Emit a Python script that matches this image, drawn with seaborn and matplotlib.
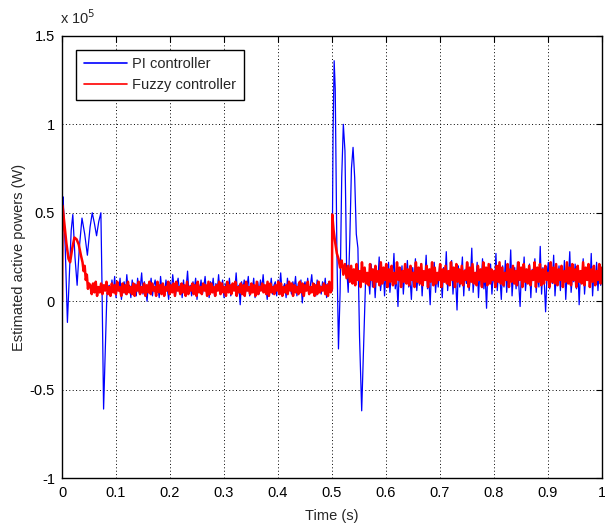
import numpy as np
import pandas as pd
import matplotlib
matplotlib.use("Agg")
import matplotlib.pyplot as plt
from matplotlib.ticker import FuncFormatter
import seaborn as sns

# Estimated active power in units of 1e5 W

# PI controller: start-up transient
pi_start_t = [0.000, 0.0015, 0.002, 0.006, 0.010, 0.013, 0.017, 0.020, 0.024, 0.028, 0.032,
              0.037, 0.042, 0.047, 0.052, 0.056, 0.060, 0.064, 0.068, 0.072, 0.074,
              0.077, 0.080, 0.083, 0.085]
pi_start_p = [0.00, 0.50, 0.59, 0.30, -0.12, 0.10, 0.40, 0.49, 0.25, 0.09, 0.30,
              0.47, 0.38, 0.26, 0.42, 0.50, 0.44, 0.37, 0.45, 0.50, 0.10,
              -0.61, -0.30, 0.03, 0.08]

# PI controller: steady operation 0.0875 s .. 0.4975 s
pi_steady1 = [
    0.09, 0.03, 0.12, 0.05, 0.14, 0.02, 0.10, 0.06, 0.13, 0.01, 0.08, 0.11, 0.04, 0.15, 0.06, 0.09, 0.02, 0.12, 0.07, 0.10,
    0.03, 0.13, 0.05, 0.08, 0.16, 0.04, 0.11, 0.06, 0.00, 0.10, 0.07, 0.13, 0.03, 0.09, 0.12, 0.05, 0.08, 0.02, 0.14, 0.06,
    0.10, 0.04, 0.12, 0.07, 0.01, 0.11, 0.05, 0.15, 0.08, 0.03, 0.09, 0.13, 0.06, 0.10, 0.02, 0.12, 0.04, 0.08, 0.17, 0.05,
    0.09, 0.03, 0.11, 0.07, 0.13, 0.01, 0.10, 0.06, 0.12, 0.04, 0.08, 0.14, 0.05, 0.09, 0.02, 0.11, 0.07, 0.13, 0.03, 0.10,
    0.06, 0.15, 0.04, 0.08, 0.12, 0.02, 0.09, 0.11, 0.05, 0.13, 0.03, 0.07, 0.10, 0.06, 0.16, 0.04, 0.09, -0.02, 0.11, 0.07,
    0.12, 0.05, 0.08, 0.14, 0.03, 0.10, 0.06, 0.13, 0.02, 0.09, 0.11, 0.04, 0.12, 0.07, 0.15, 0.05, 0.08, 0.01, 0.10, 0.06,
    0.13, 0.04, 0.09, 0.11, 0.03, 0.12, 0.07, 0.16, 0.05, 0.08, 0.10, 0.02, 0.13, 0.06, 0.09, 0.04, 0.11, 0.07, 0.14, 0.03,
    0.10, 0.05, 0.12, -0.01, 0.08, 0.11, 0.06, 0.13, 0.04, 0.09, 0.15, 0.05, 0.10, 0.03, 0.12, 0.07, 0.09, 0.04, 0.11, 0.06,
    0.13, 0.02, 0.10, 0.07, 0.08]

# PI controller: load step transient
pi_step_t = [0.500, 0.502, 0.504, 0.506, 0.509, 0.512, 0.515, 0.518, 0.521, 0.524, 0.527,
             0.530, 0.533, 0.536, 0.539, 0.542, 0.545, 0.548, 0.551, 0.555, 0.559, 0.562, 0.565]
pi_step_p = [0.06, 0.95, 1.36, 1.20, 0.30, -0.27, 0.05, 0.70, 1.00, 0.85, 0.20,
             0.05, 0.35, 0.75, 0.87, 0.70, 0.38, 0.30, -0.20, -0.62, -0.20, 0.10, 0.14]

# PI controller: steady operation 0.5675 s .. 1.0 s
pi_steady2 = [
    0.14, 0.04, 0.21, 0.08, 0.18, 0.02, 0.16, 0.11, 0.25, 0.06, 0.13, 0.19, 0.03, 0.17, 0.09, 0.22, 0.05, 0.15, 0.12, 0.27,
    0.07, 0.14, -0.03, 0.18, 0.10, 0.20, 0.04, 0.16, 0.12, 0.23, 0.08, 0.13, 0.01, 0.19, 0.11, 0.24, 0.06, 0.15, 0.09, 0.21,
    0.03, 0.17, 0.13, 0.26, 0.07, 0.12, -0.02, 0.18, 0.10, 0.22, 0.05, 0.16, 0.08, 0.20, 0.14, 0.02, 0.19, 0.11, 0.28, 0.06,
    0.15, 0.09, 0.23, 0.04, 0.17, 0.12, -0.05, 0.20, 0.08, 0.14, 0.25, 0.03, 0.18, 0.10, 0.21, 0.06, 0.13, 0.30, 0.05, 0.16,
    0.11, 0.22, 0.02, 0.17, 0.09, 0.24, 0.07, 0.14, -0.04, 0.19, 0.12, 0.21, 0.04, 0.15, 0.10, 0.27, 0.06, 0.18, 0.13, 0.01,
    0.20, 0.08, 0.23, 0.05, 0.16, 0.11, 0.29, 0.03, 0.14, 0.19, 0.07, 0.22, 0.09, -0.03, 0.17, 0.12, 0.25, 0.06, 0.15, 0.10,
    0.21, 0.02, 0.18, 0.13, 0.24, 0.05, 0.16, 0.08, 0.31, 0.04, 0.19, 0.11, -0.06, 0.14, 0.22, 0.07, 0.17, 0.10, 0.26, 0.03,
    0.15, 0.12, 0.20, 0.06, 0.18, 0.09, 0.23, 0.01, 0.16, 0.13, 0.28, 0.05, 0.14, 0.11, 0.21, 0.07, 0.19, -0.02, 0.17, 0.10,
    0.24, 0.04, 0.15, 0.12, 0.20, 0.08, 0.27, 0.03, 0.16, 0.11, 0.22, 0.06, 0.18, 0.09, 0.13]

# Fuzzy controller: start-up transient
fz_start_t = [0.000, 0.001, 0.004, 0.008, 0.012, 0.015, 0.019, 0.023, 0.027, 0.031,
              0.035, 0.038, 0.040, 0.042, 0.044, 0.046, 0.048, 0.050]
fz_start_p = [0.00, 0.54, 0.45, 0.33, 0.24, 0.22, 0.30, 0.36, 0.35, 0.32,
              0.26, 0.22, 0.17, 0.20, 0.12, 0.15, 0.07, 0.10]

# Fuzzy controller: steady operation 0.0525 s .. 0.4975 s
fz_steady1 = [
    0.09, 0.04, 0.10, 0.05, 0.11, 0.03, 0.08, 0.05, 0.10, 0.04, 0.09, 0.06, 0.11, 0.04, 0.08, 0.03, 0.10, 0.05, 0.09, 0.04,
    0.11, 0.06, 0.08, 0.03, 0.10, 0.05, 0.09, 0.04, 0.11, 0.05, 0.08, 0.04, 0.10, 0.03, 0.09, 0.06, 0.11, 0.04, 0.08, 0.05,
    0.10, 0.03, 0.09, 0.05, 0.11, 0.04, 0.10, 0.06, 0.08, 0.03, 0.11, 0.05, 0.09, 0.04, 0.10, 0.03, 0.08, 0.06, 0.11, 0.04,
    0.09, 0.05, 0.10, 0.03, 0.11, 0.06, 0.08, 0.04, 0.10, 0.05, 0.09, 0.03, 0.11, 0.04, 0.08, 0.06, 0.10, 0.04, 0.09, 0.03,
    0.11, 0.05, 0.08, 0.04, 0.10, 0.06, 0.09, 0.03, 0.11, 0.04, 0.10, 0.05, 0.08, 0.03, 0.09, 0.06, 0.11, 0.04, 0.10, 0.05,
    0.08, 0.03, 0.11, 0.05, 0.09, 0.04, 0.10, 0.06, 0.11, 0.03, 0.08, 0.05, 0.10, 0.04, 0.09, 0.03, 0.11, 0.06, 0.08, 0.04,
    0.10, 0.05, 0.09, 0.03, 0.11, 0.04, 0.08, 0.06, 0.10, 0.05, 0.09, 0.04, 0.11, 0.03, 0.10, 0.05, 0.08, 0.04, 0.09, 0.06,
    0.11, 0.04, 0.10, 0.03, 0.08, 0.05, 0.09, 0.04, 0.11, 0.06, 0.10, 0.03, 0.09, 0.05, 0.08, 0.04, 0.11, 0.05, 0.10, 0.03,
    0.09, 0.06, 0.11, 0.04, 0.08, 0.05, 0.10, 0.03, 0.09, 0.04, 0.11, 0.05, 0.08, 0.06, 0.10, 0.04, 0.09, 0.03, 0.11, 0.05]

# Fuzzy controller: load step transient
fz_step_t = [0.500, 0.5005, 0.503, 0.506, 0.509, 0.512, 0.515, 0.518, 0.521, 0.524, 0.527, 0.530, 0.533]
fz_step_p = [0.07, 0.49, 0.40, 0.33, 0.27, 0.24, 0.19, 0.23, 0.15, 0.21, 0.13, 0.20, 0.11]

# Fuzzy controller: steady operation 0.5355 s .. 1.0 s
fz_steady2 = [
    0.20, 0.10, 0.18, 0.09, 0.21, 0.12, 0.17, 0.08, 0.22, 0.11, 0.19, 0.10, 0.16, 0.09, 0.21, 0.12, 0.18, 0.08, 0.20, 0.11,
    0.17, 0.09, 0.22, 0.10, 0.19, 0.12, 0.21, 0.08, 0.18, 0.11, 0.20, 0.09, 0.16, 0.10, 0.22, 0.12, 0.19, 0.08, 0.17, 0.11,
    0.21, 0.10, 0.18, 0.09, 0.20, 0.12, 0.16, 0.08, 0.22, 0.11, 0.19, 0.10, 0.21, 0.09, 0.17, 0.12, 0.20, 0.08, 0.18, 0.11,
    0.22, 0.09, 0.19, 0.10, 0.16, 0.12, 0.21, 0.08, 0.18, 0.11, 0.20, 0.10, 0.17, 0.09, 0.22, 0.12, 0.19, 0.08, 0.21, 0.11,
    0.18, 0.10, 0.20, 0.09, 0.17, 0.12, 0.22, 0.08, 0.19, 0.11, 0.21, 0.10, 0.16, 0.09, 0.20, 0.12, 0.18, 0.08, 0.22, 0.11,
    0.19, 0.09, 0.21, 0.10, 0.18, 0.12, 0.17, 0.08, 0.20, 0.11, 0.22, 0.10, 0.19, 0.09, 0.16, 0.12, 0.21, 0.08, 0.18, 0.11,
    0.20, 0.10, 0.17, 0.09, 0.22, 0.12, 0.19, 0.08, 0.21, 0.11, 0.18, 0.10, 0.20, 0.09, 0.17, 0.12, 0.22, 0.08, 0.19, 0.11,
    0.21, 0.09, 0.18, 0.10, 0.20, 0.12, 0.16, 0.08, 0.22, 0.11, 0.19, 0.10, 0.21, 0.09, 0.18, 0.12, 0.20, 0.08, 0.17, 0.11,
    0.22, 0.10, 0.19, 0.09, 0.21, 0.12, 0.18, 0.08, 0.20, 0.11, 0.17, 0.10, 0.22, 0.09, 0.19, 0.12, 0.21, 0.08, 0.18, 0.11,
    0.20, 0.09, 0.17, 0.12, 0.21, 0.10, 0.19]

x_ticks = [0, 0.1, 0.2, 0.3, 0.4, 0.5, 0.6, 0.7, 0.8, 0.9, 1]
y_ticks = [-1, -0.5, 0, 0.5, 1, 1.5]

# Assemble sampled time axes for each controller
pi_t = np.concatenate([pi_start_t, np.linspace(0.0875, 0.4975, len(pi_steady1)),
                       pi_step_t, np.linspace(0.5675, 1.0, len(pi_steady2))])
pi_p = np.concatenate([pi_start_p, pi_steady1, pi_step_p, pi_steady2])
fz_t = np.concatenate([fz_start_t, np.linspace(0.0525, 0.4975, len(fz_steady1)),
                       fz_step_t, np.linspace(0.5355, 1.0, len(fz_steady2))])
fz_p = np.concatenate([fz_start_p, fz_steady1, fz_step_p, fz_steady2])

pi_df = pd.DataFrame({"t": pi_t, "p": pi_p})
fz_df = pd.DataFrame({"t": fz_t, "p": fz_p})

sns.set_style("white")
plt.rcParams["font.family"] = ["Liberation Sans", "DejaVu Sans"]

fig = plt.figure(figsize=(6.05, 5.29), dpi=100)
ax = fig.add_axes([0.1025, 0.0964, 0.8925, 0.8356])

sns.lineplot(data=pi_df, x="t", y="p", ax=ax, color="#0000ff", lw=0.9,
             estimator=None, sort=False, label="PI controller")
sns.lineplot(data=fz_df, x="t", y="p", ax=ax, color="#ff0000", lw=1.8,
             estimator=None, sort=False, label="Fuzzy controller")

ax.set_xlim(0, 1)
ax.set_ylim(-1, 1.5)
ax.set_xticks(x_ticks)
ax.set_yticks(y_ticks)
fmt = FuncFormatter(lambda v, pos: f"{v:g}")
ax.xaxis.set_major_formatter(fmt)
ax.yaxis.set_major_formatter(fmt)
ax.grid(True, color="black", linestyle=(0, (1, 2.5)), linewidth=0.7)
ax.set_axisbelow(True)
ax.tick_params(direction="in", top=True, right=True, length=4, width=0.8,
               labelsize=10.5, colors="black")
ax.tick_params(axis="x", pad=6)
ax.tick_params(axis="y", pad=5)
for s in ax.spines.values():
    s.set_visible(True)
    s.set_color("black")
    s.set_linewidth(1.0)

ax.set_xlabel("Time (s)", fontsize=10.5, labelpad=6)
ax.set_ylabel("Estimated active powers (W)", fontsize=10.5, labelpad=3)
ax.text(-0.003, 1.02, r"x 10$^5$", transform=ax.transAxes, fontsize=10.5,
        ha="left", va="bottom")

leg = ax.legend(loc="upper left", bbox_to_anchor=(0.013, 0.985), fontsize=10.5,
                frameon=True, fancybox=False, edgecolor="black", framealpha=1,
                borderpad=0.5, handlelength=3.0, labelspacing=0.5, handletextpad=0.35)
leg.get_frame().set_linewidth(1.0)
for line in leg.get_lines():
    line.set_linewidth(1.2)

fig.savefig("out.png", dpi=100)
